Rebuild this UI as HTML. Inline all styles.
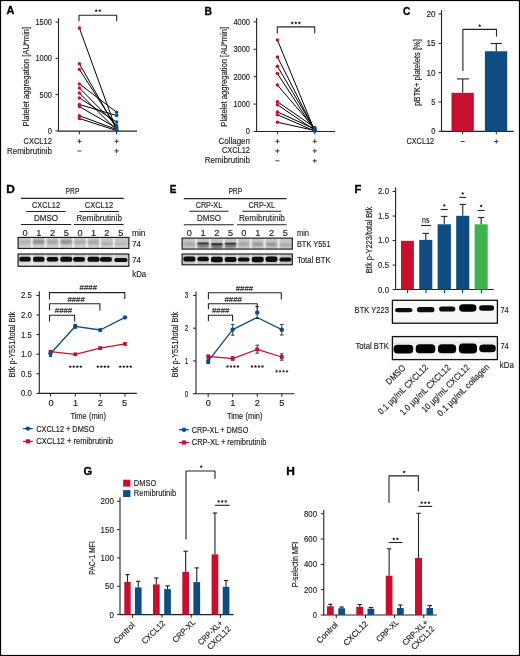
<!DOCTYPE html><html><head><meta charset="utf-8"><style>html,body{margin:0;padding:0;background:#fff}svg{display:block;will-change:transform}text{font-family:"Liberation Sans",sans-serif;stroke:#1c1c1c;stroke-width:0.15px}</style></head><body>
<svg width="520" height="656" viewBox="0 0 520 656">
<defs><filter id="bl1" x="-20%" y="-50%" width="140%" height="200%"><feGaussianBlur stdDeviation="0.7"/></filter><filter id="bl2" x="-20%" y="-80%" width="140%" height="260%"><feGaussianBlur stdDeviation="1.0"/></filter></defs>
<rect x="0.00" y="0.00" width="520.00" height="656.00" fill="#fff" />
<line x1="58.50" y1="18.10" x2="58.50" y2="131.50" stroke="#222" stroke-width="1.1"/>
<line x1="55.50" y1="22.10" x2="58.50" y2="22.10" stroke="#222" stroke-width="1"/>
<text x="52.00" y="25.04" font-size="9.2" text-anchor="end" fill="#1c1c1c" textLength="16.60" lengthAdjust="spacingAndGlyphs">1500</text>
<line x1="55.50" y1="58.37" x2="58.50" y2="58.37" stroke="#222" stroke-width="1"/>
<text x="52.00" y="61.31" font-size="9.2" text-anchor="end" fill="#1c1c1c" textLength="16.60" lengthAdjust="spacingAndGlyphs">1000</text>
<line x1="55.50" y1="94.63" x2="58.50" y2="94.63" stroke="#222" stroke-width="1"/>
<text x="52.00" y="97.58" font-size="9.2" text-anchor="end" fill="#1c1c1c" textLength="12.40" lengthAdjust="spacingAndGlyphs">500</text>
<line x1="55.50" y1="130.90" x2="58.50" y2="130.90" stroke="#222" stroke-width="1"/>
<text x="52.00" y="133.84" font-size="9.2" text-anchor="end" fill="#1c1c1c" textLength="4.20" lengthAdjust="spacingAndGlyphs">0</text>
<line x1="58.50" y1="131.10" x2="137.00" y2="131.10" stroke="#222" stroke-width="1.1"/>
<line x1="79.40" y1="131.10" x2="79.40" y2="134.30" stroke="#222" stroke-width="1"/>
<line x1="116.60" y1="131.10" x2="116.60" y2="134.30" stroke="#222" stroke-width="1"/>
<text transform="translate(28.90,76.70) rotate(-90)" x="0" y="0" font-size="9.2" text-anchor="middle" fill="#1c1c1c" textLength="99.80" lengthAdjust="spacingAndGlyphs">Platelet aggregation [AU*min]</text>
<path d="M79 21.3V15.3H116.7V21.3" stroke="#222" stroke-width="1.1" fill="none" stroke-linejoin="round" />
<polygon points="96.20,8.95 96.66,10.06 97.86,10.16 96.95,10.94 97.23,12.12 96.20,11.49 95.17,12.12 95.45,10.94 94.54,10.16 95.74,10.06" fill="#1a1a1a"/>
<polygon points="99.80,8.95 100.26,10.06 101.46,10.16 100.55,10.94 100.83,12.12 99.80,11.49 98.77,12.12 99.05,10.94 98.14,10.16 99.34,10.06" fill="#1a1a1a"/>
<line x1="79.40" y1="28.10" x2="116.60" y2="130.60" stroke="#000" stroke-width="1.0"/>
<line x1="79.40" y1="63.75" x2="116.60" y2="129.10" stroke="#000" stroke-width="1.0"/>
<line x1="79.40" y1="69.40" x2="116.60" y2="127.40" stroke="#000" stroke-width="1.0"/>
<line x1="79.40" y1="83.90" x2="116.60" y2="112.20" stroke="#000" stroke-width="1.0"/>
<line x1="79.40" y1="88.00" x2="116.60" y2="125.40" stroke="#000" stroke-width="1.0"/>
<line x1="79.40" y1="93.10" x2="116.60" y2="130.00" stroke="#000" stroke-width="1.0"/>
<line x1="79.40" y1="97.90" x2="116.60" y2="122.00" stroke="#000" stroke-width="1.0"/>
<line x1="79.40" y1="104.50" x2="116.60" y2="115.50" stroke="#000" stroke-width="1.0"/>
<line x1="79.40" y1="106.60" x2="116.60" y2="128.00" stroke="#000" stroke-width="1.0"/>
<line x1="79.40" y1="115.70" x2="116.60" y2="129.50" stroke="#000" stroke-width="1.0"/>
<line x1="79.40" y1="118.50" x2="116.60" y2="130.60" stroke="#000" stroke-width="1.0"/>
<circle cx="79.40" cy="28.10" r="1.75" fill="#c8102e"/>
<circle cx="79.40" cy="63.75" r="1.75" fill="#c8102e"/>
<circle cx="79.40" cy="69.40" r="1.75" fill="#c8102e"/>
<circle cx="79.40" cy="83.90" r="1.75" fill="#c8102e"/>
<circle cx="79.40" cy="88.00" r="1.75" fill="#c8102e"/>
<circle cx="79.40" cy="93.10" r="1.75" fill="#c8102e"/>
<circle cx="79.40" cy="97.90" r="1.75" fill="#c8102e"/>
<circle cx="79.40" cy="104.50" r="1.75" fill="#c8102e"/>
<circle cx="79.40" cy="106.60" r="1.75" fill="#c8102e"/>
<circle cx="79.40" cy="115.70" r="1.75" fill="#c8102e"/>
<circle cx="79.40" cy="118.50" r="1.75" fill="#c8102e"/>
<circle cx="116.60" cy="130.60" r="1.75" fill="#0e4c82"/>
<circle cx="116.60" cy="129.10" r="1.75" fill="#0e4c82"/>
<circle cx="116.60" cy="127.40" r="1.75" fill="#0e4c82"/>
<circle cx="116.60" cy="112.20" r="1.75" fill="#0e4c82"/>
<circle cx="116.60" cy="125.40" r="1.75" fill="#0e4c82"/>
<circle cx="116.60" cy="130.00" r="1.75" fill="#0e4c82"/>
<circle cx="116.60" cy="122.00" r="1.75" fill="#0e4c82"/>
<circle cx="116.60" cy="115.50" r="1.75" fill="#0e4c82"/>
<circle cx="116.60" cy="128.00" r="1.75" fill="#0e4c82"/>
<circle cx="116.60" cy="129.50" r="1.75" fill="#0e4c82"/>
<circle cx="116.60" cy="130.60" r="1.75" fill="#0e4c82"/>
<text x="51.90" y="143.74" font-size="9.2" text-anchor="end" fill="#1c1c1c" textLength="28.40" lengthAdjust="spacingAndGlyphs">CXCL12</text>
<text x="51.90" y="153.84" font-size="9.2" text-anchor="end" fill="#1c1c1c" textLength="45.00" lengthAdjust="spacingAndGlyphs">Remibrutinib</text>
<line x1="77.30" y1="141.30" x2="81.50" y2="141.30" stroke="#333" stroke-width="0.95"/>
<line x1="79.40" y1="139.20" x2="79.40" y2="143.40" stroke="#333" stroke-width="0.95"/>
<line x1="114.50" y1="141.30" x2="118.70" y2="141.30" stroke="#333" stroke-width="0.95"/>
<line x1="116.60" y1="139.20" x2="116.60" y2="143.40" stroke="#333" stroke-width="0.95"/>
<line x1="77.50" y1="151.00" x2="81.30" y2="151.00" stroke="#333" stroke-width="0.95"/>
<line x1="114.50" y1="150.90" x2="118.70" y2="150.90" stroke="#333" stroke-width="0.95"/>
<line x1="116.60" y1="148.80" x2="116.60" y2="153.00" stroke="#333" stroke-width="0.95"/>
<line x1="256.60" y1="18.10" x2="256.60" y2="132.00" stroke="#222" stroke-width="1.1"/>
<line x1="253.60" y1="21.90" x2="256.60" y2="21.90" stroke="#222" stroke-width="1"/>
<text x="250.00" y="24.84" font-size="9.2" text-anchor="end" fill="#1c1c1c" textLength="16.60" lengthAdjust="spacingAndGlyphs">4000</text>
<line x1="253.60" y1="49.30" x2="256.60" y2="49.30" stroke="#222" stroke-width="1"/>
<text x="250.00" y="52.24" font-size="9.2" text-anchor="end" fill="#1c1c1c" textLength="16.60" lengthAdjust="spacingAndGlyphs">3000</text>
<line x1="253.60" y1="76.70" x2="256.60" y2="76.70" stroke="#222" stroke-width="1"/>
<text x="250.00" y="79.64" font-size="9.2" text-anchor="end" fill="#1c1c1c" textLength="16.60" lengthAdjust="spacingAndGlyphs">2000</text>
<line x1="253.60" y1="104.10" x2="256.60" y2="104.10" stroke="#222" stroke-width="1"/>
<text x="250.00" y="107.04" font-size="9.2" text-anchor="end" fill="#1c1c1c" textLength="16.60" lengthAdjust="spacingAndGlyphs">1000</text>
<line x1="253.60" y1="131.50" x2="256.60" y2="131.50" stroke="#222" stroke-width="1"/>
<text x="250.00" y="134.44" font-size="9.2" text-anchor="end" fill="#1c1c1c" textLength="4.20" lengthAdjust="spacingAndGlyphs">0</text>
<line x1="256.60" y1="131.50" x2="335.00" y2="131.50" stroke="#222" stroke-width="1.1"/>
<line x1="277.40" y1="131.50" x2="277.40" y2="134.30" stroke="#222" stroke-width="1"/>
<line x1="314.75" y1="131.50" x2="314.75" y2="134.30" stroke="#222" stroke-width="1"/>
<text transform="translate(227.10,76.80) rotate(-90)" x="0" y="0" font-size="9.2" text-anchor="middle" fill="#1c1c1c" textLength="99.80" lengthAdjust="spacingAndGlyphs">Platelet aggregation [AU*min]</text>
<path d="M277.3 33.4V26.9H314.7V33.4" stroke="#222" stroke-width="1.1" fill="none" stroke-linejoin="round" />
<polygon points="292.20,21.25 292.66,22.36 293.86,22.46 292.95,23.24 293.23,24.42 292.20,23.79 291.17,24.42 291.45,23.24 290.54,22.46 291.74,22.36" fill="#1a1a1a"/>
<polygon points="295.80,21.25 296.26,22.36 297.46,22.46 296.55,23.24 296.83,24.42 295.80,23.79 294.77,24.42 295.05,23.24 294.14,22.46 295.34,22.36" fill="#1a1a1a"/>
<polygon points="299.40,21.25 299.86,22.36 301.06,22.46 300.15,23.24 300.43,24.42 299.40,23.79 298.37,24.42 298.65,23.24 297.74,22.46 298.94,22.36" fill="#1a1a1a"/>
<line x1="277.40" y1="40.00" x2="314.75" y2="131.00" stroke="#000" stroke-width="1.0"/>
<line x1="277.40" y1="56.90" x2="314.75" y2="130.50" stroke="#000" stroke-width="1.0"/>
<line x1="277.40" y1="66.25" x2="314.75" y2="129.50" stroke="#000" stroke-width="1.0"/>
<line x1="277.40" y1="73.50" x2="314.75" y2="130.80" stroke="#000" stroke-width="1.0"/>
<line x1="277.40" y1="85.00" x2="314.75" y2="128.50" stroke="#000" stroke-width="1.0"/>
<line x1="277.40" y1="101.70" x2="314.75" y2="127.50" stroke="#000" stroke-width="1.0"/>
<line x1="277.40" y1="104.70" x2="314.75" y2="130.20" stroke="#000" stroke-width="1.0"/>
<line x1="277.40" y1="111.90" x2="314.75" y2="129.00" stroke="#000" stroke-width="1.0"/>
<line x1="277.40" y1="114.75" x2="314.75" y2="131.00" stroke="#000" stroke-width="1.0"/>
<line x1="277.40" y1="122.25" x2="314.75" y2="130.50" stroke="#000" stroke-width="1.0"/>
<circle cx="277.40" cy="40.00" r="1.75" fill="#c8102e"/>
<circle cx="277.40" cy="56.90" r="1.75" fill="#c8102e"/>
<circle cx="277.40" cy="66.25" r="1.75" fill="#c8102e"/>
<circle cx="277.40" cy="73.50" r="1.75" fill="#c8102e"/>
<circle cx="277.40" cy="85.00" r="1.75" fill="#c8102e"/>
<circle cx="277.40" cy="101.70" r="1.75" fill="#c8102e"/>
<circle cx="277.40" cy="104.70" r="1.75" fill="#c8102e"/>
<circle cx="277.40" cy="111.90" r="1.75" fill="#c8102e"/>
<circle cx="277.40" cy="114.75" r="1.75" fill="#c8102e"/>
<circle cx="277.40" cy="122.25" r="1.75" fill="#c8102e"/>
<circle cx="314.75" cy="131.00" r="1.75" fill="#0e4c82"/>
<circle cx="314.75" cy="130.50" r="1.75" fill="#0e4c82"/>
<circle cx="314.75" cy="129.50" r="1.75" fill="#0e4c82"/>
<circle cx="314.75" cy="130.80" r="1.75" fill="#0e4c82"/>
<circle cx="314.75" cy="128.50" r="1.75" fill="#0e4c82"/>
<circle cx="314.75" cy="127.50" r="1.75" fill="#0e4c82"/>
<circle cx="314.75" cy="130.20" r="1.75" fill="#0e4c82"/>
<circle cx="314.75" cy="129.00" r="1.75" fill="#0e4c82"/>
<circle cx="314.75" cy="131.00" r="1.75" fill="#0e4c82"/>
<circle cx="314.75" cy="130.50" r="1.75" fill="#0e4c82"/>
<text x="249.90" y="144.04" font-size="9.2" text-anchor="end" fill="#1c1c1c" textLength="31.40" lengthAdjust="spacingAndGlyphs">Collagen</text>
<text x="249.90" y="153.44" font-size="9.2" text-anchor="end" fill="#1c1c1c" textLength="28.00" lengthAdjust="spacingAndGlyphs">CXCL12</text>
<text x="249.90" y="163.24" font-size="9.2" text-anchor="end" fill="#1c1c1c" textLength="45.10" lengthAdjust="spacingAndGlyphs">Remibrutinib</text>
<line x1="275.30" y1="141.30" x2="279.50" y2="141.30" stroke="#333" stroke-width="0.95"/>
<line x1="277.40" y1="139.20" x2="277.40" y2="143.40" stroke="#333" stroke-width="0.95"/>
<line x1="312.65" y1="141.30" x2="316.85" y2="141.30" stroke="#333" stroke-width="0.95"/>
<line x1="314.75" y1="139.20" x2="314.75" y2="143.40" stroke="#333" stroke-width="0.95"/>
<line x1="275.30" y1="150.90" x2="279.50" y2="150.90" stroke="#333" stroke-width="0.95"/>
<line x1="277.40" y1="148.80" x2="277.40" y2="153.00" stroke="#333" stroke-width="0.95"/>
<line x1="312.65" y1="150.90" x2="316.85" y2="150.90" stroke="#333" stroke-width="0.95"/>
<line x1="314.75" y1="148.80" x2="314.75" y2="153.00" stroke="#333" stroke-width="0.95"/>
<line x1="275.50" y1="160.80" x2="279.30" y2="160.80" stroke="#333" stroke-width="0.95"/>
<line x1="312.65" y1="160.80" x2="316.85" y2="160.80" stroke="#333" stroke-width="0.95"/>
<line x1="314.75" y1="158.70" x2="314.75" y2="162.90" stroke="#333" stroke-width="0.95"/>
<line x1="441.50" y1="10.00" x2="441.50" y2="131.80" stroke="#222" stroke-width="1.1"/>
<line x1="438.50" y1="14.00" x2="441.50" y2="14.00" stroke="#222" stroke-width="1"/>
<text x="435.40" y="16.94" font-size="9.2" text-anchor="end" fill="#1c1c1c" textLength="9.00" lengthAdjust="spacingAndGlyphs">20</text>
<line x1="438.50" y1="43.33" x2="441.50" y2="43.33" stroke="#222" stroke-width="1"/>
<text x="435.40" y="46.27" font-size="9.2" text-anchor="end" fill="#1c1c1c" textLength="9.00" lengthAdjust="spacingAndGlyphs">15</text>
<line x1="438.50" y1="72.65" x2="441.50" y2="72.65" stroke="#222" stroke-width="1"/>
<text x="435.40" y="75.59" font-size="9.2" text-anchor="end" fill="#1c1c1c" textLength="9.00" lengthAdjust="spacingAndGlyphs">10</text>
<line x1="438.50" y1="101.98" x2="441.50" y2="101.98" stroke="#222" stroke-width="1"/>
<text x="435.40" y="104.92" font-size="9.2" text-anchor="end" fill="#1c1c1c" textLength="4.20" lengthAdjust="spacingAndGlyphs">5</text>
<line x1="438.50" y1="131.30" x2="441.50" y2="131.30" stroke="#222" stroke-width="1"/>
<text x="435.40" y="134.24" font-size="9.2" text-anchor="end" fill="#1c1c1c" textLength="4.20" lengthAdjust="spacingAndGlyphs">0</text>
<line x1="441.50" y1="131.40" x2="513.80" y2="131.40" stroke="#222" stroke-width="1.1"/>
<rect x="451.50" y="92.80" width="22.30" height="38.60" fill="#c8102e" />
<rect x="484.90" y="51.25" width="22.30" height="80.15" fill="#0e4c82" />
<line x1="462.70" y1="92.80" x2="462.70" y2="78.90" stroke="#222" stroke-width="1.1"/>
<line x1="456.90" y1="78.90" x2="468.90" y2="78.90" stroke="#222" stroke-width="1.1"/>
<line x1="496.30" y1="51.25" x2="496.30" y2="43.50" stroke="#222" stroke-width="1.1"/>
<line x1="490.60" y1="43.50" x2="501.90" y2="43.50" stroke="#222" stroke-width="1.1"/>
<path d="M462.9 71.1V29.4H496.5V36.5" stroke="#222" stroke-width="1.1" fill="none" stroke-linejoin="round" />
<polygon points="479.75,23.85 480.21,24.96 481.41,25.06 480.50,25.84 480.78,27.02 479.75,26.39 478.72,27.02 479.00,25.84 478.09,25.06 479.29,24.96" fill="#1a1a1a"/>
<line x1="462.70" y1="131.40" x2="462.70" y2="134.30" stroke="#222" stroke-width="1"/>
<line x1="496.30" y1="131.40" x2="496.30" y2="134.30" stroke="#222" stroke-width="1"/>
<line x1="460.80" y1="141.50" x2="464.60" y2="141.50" stroke="#333" stroke-width="0.95"/>
<line x1="494.20" y1="141.50" x2="498.40" y2="141.50" stroke="#333" stroke-width="0.95"/>
<line x1="496.30" y1="139.40" x2="496.30" y2="143.60" stroke="#333" stroke-width="0.95"/>
<text x="434.20" y="143.64" font-size="9.2" text-anchor="end" fill="#1c1c1c" textLength="27.80" lengthAdjust="spacingAndGlyphs">CXCL12</text>
<text transform="translate(420.20,72.50) rotate(-90)" x="0" y="0" font-size="9.5" text-anchor="middle" fill="#1c1c1c" textLength="66.80" lengthAdjust="spacingAndGlyphs">pBTK+ platelets [%]</text>
<text x="72.50" y="193.84" font-size="9.2" text-anchor="middle" fill="#1c1c1c" textLength="13.80" lengthAdjust="spacingAndGlyphs">PRP</text>
<line x1="21.00" y1="198.40" x2="123.75" y2="198.40" stroke="#222" stroke-width="1.1"/>
<text x="46.00" y="208.04" font-size="9.2" text-anchor="middle" fill="#1c1c1c" textLength="28.10" lengthAdjust="spacingAndGlyphs">CXCL12</text>
<text x="98.90" y="208.04" font-size="9.2" text-anchor="middle" fill="#1c1c1c" textLength="28.30" lengthAdjust="spacingAndGlyphs">CXCL12</text>
<line x1="26.25" y1="211.50" x2="65.60" y2="211.50" stroke="#222" stroke-width="1.1"/>
<line x1="79.40" y1="211.50" x2="118.75" y2="211.50" stroke="#222" stroke-width="1.1"/>
<text x="46.00" y="221.04" font-size="9.2" text-anchor="middle" fill="#1c1c1c" textLength="24.10" lengthAdjust="spacingAndGlyphs">DMSO</text>
<text x="99.20" y="221.04" font-size="9.2" text-anchor="middle" fill="#1c1c1c" textLength="45.40" lengthAdjust="spacingAndGlyphs">Remibrutinib</text>
<line x1="21.00" y1="224.50" x2="71.25" y2="224.50" stroke="#222" stroke-width="1.1"/>
<line x1="74.00" y1="224.50" x2="123.75" y2="224.50" stroke="#222" stroke-width="1.1"/>
<text x="25.00" y="235.64" font-size="9.2" text-anchor="middle" fill="#1c1c1c">0</text>
<text x="38.75" y="235.64" font-size="9.2" text-anchor="middle" fill="#1c1c1c">1</text>
<text x="52.50" y="235.64" font-size="9.2" text-anchor="middle" fill="#1c1c1c">2</text>
<text x="66.25" y="235.64" font-size="9.2" text-anchor="middle" fill="#1c1c1c">5</text>
<text x="80.00" y="235.64" font-size="9.2" text-anchor="middle" fill="#1c1c1c">0</text>
<text x="93.50" y="235.64" font-size="9.2" text-anchor="middle" fill="#1c1c1c">1</text>
<text x="106.90" y="235.64" font-size="9.2" text-anchor="middle" fill="#1c1c1c">2</text>
<text x="120.80" y="235.64" font-size="9.2" text-anchor="middle" fill="#1c1c1c">5</text>
<text x="132.00" y="235.94" font-size="9.2" text-anchor="start" fill="#1c1c1c" textLength="13.40" lengthAdjust="spacingAndGlyphs">min</text>
<rect x="18.10" y="237.40" width="110.80" height="11.00" fill="#c6c6c6" />
<rect x="18.10" y="245.80" width="110.80" height="2.60" fill="#d8d8d8" opacity="0.8"/>
<rect x="30.77" y="237.40" width="2.20" height="11.00" fill="#f0f0f0" filter="url(#bl1)" opacity="0.9"/>
<rect x="44.52" y="237.40" width="2.20" height="11.00" fill="#f0f0f0" filter="url(#bl1)" opacity="0.9"/>
<rect x="58.27" y="237.40" width="2.20" height="11.00" fill="#f0f0f0" filter="url(#bl1)" opacity="0.9"/>
<rect x="72.03" y="237.40" width="2.20" height="11.00" fill="#f0f0f0" filter="url(#bl1)" opacity="0.9"/>
<rect x="85.65" y="237.40" width="2.20" height="11.00" fill="#f0f0f0" filter="url(#bl1)" opacity="0.9"/>
<rect x="99.10" y="237.40" width="2.20" height="11.00" fill="#f0f0f0" filter="url(#bl1)" opacity="0.9"/>
<rect x="112.75" y="237.40" width="2.20" height="11.00" fill="#f0f0f0" filter="url(#bl1)" opacity="0.9"/>
<rect x="19.50" y="240.50" width="11.00" height="3.00" rx="1.65" ry="1.20" fill="#aaaaaa" filter="url(#bl2)"/>
<rect x="33.00" y="240.20" width="11.50" height="3.40" rx="1.87" ry="1.36" fill="#808080" filter="url(#bl2)"/>
<rect x="47.00" y="240.40" width="11.00" height="3.20" rx="1.76" ry="1.28" fill="#9a9a9a" filter="url(#bl2)"/>
<rect x="60.50" y="240.20" width="11.50" height="3.40" rx="1.87" ry="1.36" fill="#848484" filter="url(#bl2)"/>
<rect x="74.50" y="240.70" width="11.00" height="3.00" rx="1.65" ry="1.20" fill="#a4a4a4" filter="url(#bl2)"/>
<rect x="88.00" y="240.70" width="11.00" height="3.00" rx="1.65" ry="1.20" fill="#a0a0a0" filter="url(#bl2)"/>
<rect x="101.40" y="242.20" width="11.00" height="2.80" rx="1.54" ry="1.12" fill="#ababab" filter="url(#bl2)"/>
<rect x="115.30" y="242.40" width="11.00" height="2.80" rx="1.54" ry="1.12" fill="#b0b0b0" filter="url(#bl2)"/>
<rect x="18.10" y="237.40" width="110.80" height="11.00" fill="none" stroke="#111" stroke-width="1.1"/>
<text x="132.30" y="247.24" font-size="9.2" text-anchor="start" fill="#1c1c1c" textLength="8.50" lengthAdjust="spacingAndGlyphs">74</text>
<rect x="18.10" y="254.00" width="110.80" height="12.30" fill="#c9c9c9" />
<rect x="18.10" y="262.60" width="110.80" height="2.60" fill="#ececec" opacity="0.8"/>
<rect x="30.77" y="254.00" width="2.20" height="12.30" fill="#e8e8e8" filter="url(#bl1)" opacity="0.9"/>
<rect x="44.52" y="254.00" width="2.20" height="12.30" fill="#e8e8e8" filter="url(#bl1)" opacity="0.9"/>
<rect x="58.27" y="254.00" width="2.20" height="12.30" fill="#e8e8e8" filter="url(#bl1)" opacity="0.9"/>
<rect x="72.03" y="254.00" width="2.20" height="12.30" fill="#e8e8e8" filter="url(#bl1)" opacity="0.9"/>
<rect x="85.65" y="254.00" width="2.20" height="12.30" fill="#e8e8e8" filter="url(#bl1)" opacity="0.9"/>
<rect x="99.10" y="254.00" width="2.20" height="12.30" fill="#e8e8e8" filter="url(#bl1)" opacity="0.9"/>
<rect x="112.75" y="254.00" width="2.20" height="12.30" fill="#e8e8e8" filter="url(#bl1)" opacity="0.9"/>
<rect x="19.25" y="256.80" width="11.50" height="4.80" rx="2.64" ry="1.92" fill="#0c0c0c" filter="url(#bl1)"/>
<rect x="33.00" y="256.70" width="11.50" height="5.00" rx="2.75" ry="2.00" fill="#0c0c0c" filter="url(#bl1)"/>
<rect x="46.75" y="257.10" width="11.50" height="4.40" rx="2.42" ry="1.76" fill="#0c0c0c" filter="url(#bl1)"/>
<rect x="60.25" y="256.70" width="12.00" height="5.00" rx="2.75" ry="2.00" fill="#0c0c0c" filter="url(#bl1)"/>
<rect x="73.00" y="256.90" width="12.00" height="4.80" rx="2.64" ry="1.92" fill="#0c0c0c" filter="url(#bl1)"/>
<rect x="87.50" y="256.80" width="12.00" height="5.00" rx="2.75" ry="2.00" fill="#0c0c0c" filter="url(#bl1)"/>
<rect x="99.90" y="257.00" width="12.00" height="4.80" rx="2.64" ry="1.92" fill="#0c0c0c" filter="url(#bl1)"/>
<rect x="114.30" y="258.10" width="13.00" height="3.80" rx="2.09" ry="1.52" fill="#0c0c0c" filter="url(#bl1)"/>
<rect x="18.10" y="254.00" width="110.80" height="12.30" fill="none" stroke="#111" stroke-width="1.1"/>
<text x="132.30" y="262.64" font-size="9.2" text-anchor="start" fill="#1c1c1c" textLength="8.50" lengthAdjust="spacingAndGlyphs">74</text>
<text x="132.30" y="276.94" font-size="9.2" text-anchor="start" fill="#1c1c1c" textLength="13.90" lengthAdjust="spacingAndGlyphs">kDa</text>
<line x1="39.30" y1="291.25" x2="39.30" y2="393.90" stroke="#222" stroke-width="1.1"/>
<line x1="36.30" y1="295.40" x2="39.30" y2="295.40" stroke="#222" stroke-width="1"/>
<text x="31.90" y="298.34" font-size="9.2" text-anchor="end" fill="#1c1c1c" textLength="10.90" lengthAdjust="spacingAndGlyphs">2.5</text>
<line x1="36.30" y1="315.00" x2="39.30" y2="315.00" stroke="#222" stroke-width="1"/>
<text x="31.90" y="317.94" font-size="9.2" text-anchor="end" fill="#1c1c1c" textLength="10.90" lengthAdjust="spacingAndGlyphs">2.0</text>
<line x1="36.30" y1="334.60" x2="39.30" y2="334.60" stroke="#222" stroke-width="1"/>
<text x="31.90" y="337.54" font-size="9.2" text-anchor="end" fill="#1c1c1c" textLength="10.90" lengthAdjust="spacingAndGlyphs">1.5</text>
<line x1="36.30" y1="354.20" x2="39.30" y2="354.20" stroke="#222" stroke-width="1"/>
<text x="31.90" y="357.14" font-size="9.2" text-anchor="end" fill="#1c1c1c" textLength="10.90" lengthAdjust="spacingAndGlyphs">1.0</text>
<line x1="36.30" y1="373.80" x2="39.30" y2="373.80" stroke="#222" stroke-width="1"/>
<text x="31.90" y="376.74" font-size="9.2" text-anchor="end" fill="#1c1c1c" textLength="10.90" lengthAdjust="spacingAndGlyphs">0.5</text>
<line x1="36.30" y1="393.40" x2="39.30" y2="393.40" stroke="#222" stroke-width="1"/>
<text x="31.90" y="396.34" font-size="9.2" text-anchor="end" fill="#1c1c1c" textLength="10.90" lengthAdjust="spacingAndGlyphs">0.0</text>
<line x1="39.30" y1="393.40" x2="136.80" y2="393.40" stroke="#222" stroke-width="1.1"/>
<line x1="50.50" y1="393.40" x2="50.50" y2="396.60" stroke="#222" stroke-width="1"/>
<line x1="75.30" y1="393.40" x2="75.30" y2="396.60" stroke="#222" stroke-width="1"/>
<line x1="100.20" y1="393.40" x2="100.20" y2="396.60" stroke="#222" stroke-width="1"/>
<line x1="125.00" y1="393.40" x2="125.00" y2="396.60" stroke="#222" stroke-width="1"/>
<text x="51.00" y="406.34" font-size="9.2" text-anchor="middle" fill="#1c1c1c">0</text>
<text x="75.60" y="406.34" font-size="9.2" text-anchor="middle" fill="#1c1c1c">1</text>
<text x="100.20" y="406.34" font-size="9.2" text-anchor="middle" fill="#1c1c1c">2</text>
<text x="124.60" y="406.34" font-size="9.2" text-anchor="middle" fill="#1c1c1c">5</text>
<text x="88.20" y="418.64" font-size="9.2" text-anchor="middle" fill="#1c1c1c" textLength="35.60" lengthAdjust="spacingAndGlyphs">Time (min)</text>
<text transform="translate(15.00,344.50) rotate(-90)" x="0" y="0" font-size="9.2" text-anchor="middle" fill="#1c1c1c" textLength="65.40" lengthAdjust="spacingAndGlyphs">Btk p-Y551/total Btk</text>
<path d="M49.5 299.4V292.6H124.8V299.0" stroke="#222" stroke-width="1.1" fill="none" stroke-linejoin="round" />
<path d="M49.5 310.3V303.7H99.9V310.6" stroke="#222" stroke-width="1.1" fill="none" stroke-linejoin="round" />
<path d="M49.5 321.4V315.3H74.6V321.5" stroke="#222" stroke-width="1.1" fill="none" stroke-linejoin="round" />
<text x="88.30" y="290.28" font-size="8.0" text-anchor="middle" fill="#1c1c1c" textLength="17.40" lengthAdjust="spacingAndGlyphs">####</text>
<text x="76.10" y="301.68" font-size="8.0" text-anchor="middle" fill="#1c1c1c" textLength="17.40" lengthAdjust="spacingAndGlyphs">####</text>
<text x="63.50" y="312.78" font-size="8.0" text-anchor="middle" fill="#1c1c1c" textLength="17.40" lengthAdjust="spacingAndGlyphs">####</text>
<path d="M50.50 351.70 L75.30 354.30 L100.20 348.10 L125.00 343.90" stroke="#c8102e" stroke-width="1.3" fill="none" stroke-linejoin="round" />
<rect x="48.60" y="349.80" width="3.80" height="3.80" fill="#c8102e" />
<rect x="73.40" y="352.40" width="3.80" height="3.80" fill="#c8102e" />
<rect x="98.30" y="346.20" width="3.80" height="3.80" fill="#c8102e" />
<rect x="123.10" y="342.00" width="3.80" height="3.80" fill="#c8102e" />
<path d="M50.50 353.80 L75.30 326.30 L100.20 330.00 L125.00 317.40" stroke="#0e4c82" stroke-width="1.3" fill="none" stroke-linejoin="round" />
<line x1="73.80" y1="324.30" x2="76.80" y2="324.30" stroke="#222" stroke-width="0.9"/>
<line x1="75.30" y1="324.30" x2="75.30" y2="328.30" stroke="#222" stroke-width="0.9"/>
<line x1="73.80" y1="328.30" x2="76.80" y2="328.30" stroke="#222" stroke-width="0.9"/>
<line x1="50.50" y1="352.00" x2="50.50" y2="356.50" stroke="#222" stroke-width="0.9"/>
<line x1="49.00" y1="356.50" x2="52.00" y2="356.50" stroke="#222" stroke-width="0.9"/>
<circle cx="50.50" cy="353.80" r="2.2" fill="#0e4c82"/>
<circle cx="75.30" cy="326.30" r="2.2" fill="#0e4c82"/>
<circle cx="100.20" cy="330.00" r="2.2" fill="#0e4c82"/>
<circle cx="125.00" cy="317.40" r="2.2" fill="#0e4c82"/>
<rect x="73.60" y="324.60" width="3.40" height="3.40" fill="#0e4c82" />
<polygon points="70.25,364.95 70.71,366.06 71.91,366.16 71.00,366.94 71.28,368.12 70.25,367.49 69.22,368.12 69.50,366.94 68.59,366.16 69.79,366.06" fill="#1a1a1a"/>
<polygon points="73.75,364.95 74.21,366.06 75.41,366.16 74.50,366.94 74.78,368.12 73.75,367.49 72.72,368.12 73.00,366.94 72.09,366.16 73.29,366.06" fill="#1a1a1a"/>
<polygon points="77.25,364.95 77.71,366.06 78.91,366.16 78.00,366.94 78.28,368.12 77.25,367.49 76.22,368.12 76.50,366.94 75.59,366.16 76.79,366.06" fill="#1a1a1a"/>
<polygon points="80.75,364.95 81.21,366.06 82.41,366.16 81.50,366.94 81.78,368.12 80.75,367.49 79.72,368.12 80.00,366.94 79.09,366.16 80.29,366.06" fill="#1a1a1a"/>
<polygon points="97.80,364.95 98.26,366.06 99.46,366.16 98.55,366.94 98.83,368.12 97.80,367.49 96.77,368.12 97.05,366.94 96.14,366.16 97.34,366.06" fill="#1a1a1a"/>
<polygon points="101.30,364.95 101.76,366.06 102.96,366.16 102.05,366.94 102.33,368.12 101.30,367.49 100.27,368.12 100.55,366.94 99.64,366.16 100.84,366.06" fill="#1a1a1a"/>
<polygon points="104.80,364.95 105.26,366.06 106.46,366.16 105.55,366.94 105.83,368.12 104.80,367.49 103.77,368.12 104.05,366.94 103.14,366.16 104.34,366.06" fill="#1a1a1a"/>
<polygon points="108.30,364.95 108.76,366.06 109.96,366.16 109.05,366.94 109.33,368.12 108.30,367.49 107.27,368.12 107.55,366.94 106.64,366.16 107.84,366.06" fill="#1a1a1a"/>
<polygon points="120.25,364.95 120.71,366.06 121.91,366.16 121.00,366.94 121.28,368.12 120.25,367.49 119.22,368.12 119.50,366.94 118.59,366.16 119.79,366.06" fill="#1a1a1a"/>
<polygon points="123.75,364.95 124.21,366.06 125.41,366.16 124.50,366.94 124.78,368.12 123.75,367.49 122.72,368.12 123.00,366.94 122.09,366.16 123.29,366.06" fill="#1a1a1a"/>
<polygon points="127.25,364.95 127.71,366.06 128.91,366.16 128.00,366.94 128.28,368.12 127.25,367.49 126.22,368.12 126.50,366.94 125.59,366.16 126.79,366.06" fill="#1a1a1a"/>
<polygon points="130.75,364.95 131.21,366.06 132.41,366.16 131.50,366.94 131.78,368.12 130.75,367.49 129.72,368.12 130.00,366.94 129.09,366.16 130.29,366.06" fill="#1a1a1a"/>
<line x1="23.10" y1="428.60" x2="32.70" y2="428.60" stroke="#0e4c82" stroke-width="1.3"/>
<circle cx="27.90" cy="428.60" r="2.2" fill="#0e4c82"/>
<text x="36.20" y="431.54" font-size="9.2" text-anchor="start" fill="#1c1c1c" textLength="58.20" lengthAdjust="spacingAndGlyphs">CXCL12 + DMSO</text>
<line x1="23.10" y1="441.40" x2="32.70" y2="441.40" stroke="#c8102e" stroke-width="1.3"/>
<rect x="25.80" y="439.30" width="4.20" height="4.20" fill="#c8102e" />
<text x="36.20" y="444.04" font-size="9.2" text-anchor="start" fill="#1c1c1c" textLength="76.80" lengthAdjust="spacingAndGlyphs">CXCL12 + remibrutinib</text>
<text x="235.30" y="194.04" font-size="9.2" text-anchor="middle" fill="#1c1c1c" textLength="13.80" lengthAdjust="spacingAndGlyphs">PRP</text>
<line x1="183.80" y1="198.60" x2="286.60" y2="198.60" stroke="#222" stroke-width="1.1"/>
<text x="208.95" y="208.24" font-size="9.2" text-anchor="middle" fill="#1c1c1c" textLength="26.50" lengthAdjust="spacingAndGlyphs">CRP-XL</text>
<text x="261.85" y="208.24" font-size="9.2" text-anchor="middle" fill="#1c1c1c" textLength="26.50" lengthAdjust="spacingAndGlyphs">CRP-XL</text>
<line x1="189.20" y1="211.30" x2="228.40" y2="211.30" stroke="#222" stroke-width="1.1"/>
<line x1="242.20" y1="211.30" x2="281.30" y2="211.30" stroke="#222" stroke-width="1.1"/>
<text x="208.95" y="221.04" font-size="9.2" text-anchor="middle" fill="#1c1c1c" textLength="23.90" lengthAdjust="spacingAndGlyphs">DMSO</text>
<text x="261.90" y="221.04" font-size="9.2" text-anchor="middle" fill="#1c1c1c" textLength="46.00" lengthAdjust="spacingAndGlyphs">Remibrutinib</text>
<line x1="183.80" y1="224.80" x2="233.70" y2="224.80" stroke="#222" stroke-width="1.1"/>
<line x1="237.10" y1="224.80" x2="286.60" y2="224.80" stroke="#222" stroke-width="1.1"/>
<text x="189.40" y="235.74" font-size="9.2" text-anchor="middle" fill="#1c1c1c">0</text>
<text x="203.10" y="235.74" font-size="9.2" text-anchor="middle" fill="#1c1c1c">1</text>
<text x="216.90" y="235.74" font-size="9.2" text-anchor="middle" fill="#1c1c1c">2</text>
<text x="230.60" y="235.74" font-size="9.2" text-anchor="middle" fill="#1c1c1c">5</text>
<text x="243.70" y="235.74" font-size="9.2" text-anchor="middle" fill="#1c1c1c">0</text>
<text x="257.70" y="235.74" font-size="9.2" text-anchor="middle" fill="#1c1c1c">1</text>
<text x="271.50" y="235.74" font-size="9.2" text-anchor="middle" fill="#1c1c1c">2</text>
<text x="285.40" y="235.74" font-size="9.2" text-anchor="middle" fill="#1c1c1c">5</text>
<text x="296.90" y="236.04" font-size="9.2" text-anchor="start" fill="#1c1c1c" textLength="12.10" lengthAdjust="spacingAndGlyphs">min</text>
<rect x="182.10" y="238.10" width="110.20" height="11.00" fill="#c6c6c6" />
<rect x="195.15" y="238.10" width="2.20" height="11.00" fill="#efefef" filter="url(#bl1)" opacity="0.9"/>
<rect x="208.90" y="238.10" width="2.20" height="11.00" fill="#efefef" filter="url(#bl1)" opacity="0.9"/>
<rect x="222.65" y="238.10" width="2.20" height="11.00" fill="#efefef" filter="url(#bl1)" opacity="0.9"/>
<rect x="236.05" y="238.10" width="2.20" height="11.00" fill="#efefef" filter="url(#bl1)" opacity="0.9"/>
<rect x="249.60" y="238.10" width="2.20" height="11.00" fill="#efefef" filter="url(#bl1)" opacity="0.9"/>
<rect x="263.50" y="238.10" width="2.20" height="11.00" fill="#efefef" filter="url(#bl1)" opacity="0.9"/>
<rect x="277.35" y="238.10" width="2.20" height="11.00" fill="#efefef" filter="url(#bl1)" opacity="0.9"/>
<rect x="183.90" y="242.80" width="11.00" height="2.60" rx="1.43" ry="1.04" fill="#a0a0a0" filter="url(#bl2)"/>
<rect x="197.35" y="243.00" width="11.50" height="4.40" rx="2.42" ry="1.76" fill="#707070" filter="url(#bl2)"/>
<rect x="197.35" y="242.50" width="11.50" height="1.80" rx="0.99" ry="0.72" fill="#3a3a3a" filter="url(#bl1)"/>
<rect x="211.15" y="243.30" width="11.50" height="4.60" rx="2.53" ry="1.84" fill="#646464" filter="url(#bl2)"/>
<rect x="211.15" y="243.30" width="11.50" height="1.80" rx="0.99" ry="0.72" fill="#333" filter="url(#bl1)"/>
<rect x="224.85" y="243.00" width="11.50" height="4.40" rx="2.42" ry="1.76" fill="#707070" filter="url(#bl2)"/>
<rect x="224.85" y="242.70" width="11.50" height="1.80" rx="0.99" ry="0.72" fill="#3a3a3a" filter="url(#bl1)"/>
<rect x="238.45" y="242.50" width="10.50" height="3.00" rx="1.65" ry="1.20" fill="#9c9c9c" filter="url(#bl2)"/>
<rect x="252.45" y="242.80" width="10.50" height="3.00" rx="1.65" ry="1.20" fill="#8e8e8e" filter="url(#bl2)"/>
<rect x="266.25" y="243.00" width="10.50" height="3.00" rx="1.65" ry="1.20" fill="#8a8a8a" filter="url(#bl2)"/>
<rect x="280.15" y="243.70" width="10.50" height="2.60" rx="1.43" ry="1.04" fill="#9e9e9e" filter="url(#bl2)"/>
<rect x="182.10" y="238.10" width="110.20" height="11.00" fill="none" stroke="#111" stroke-width="1.1"/>
<text x="296.90" y="247.14" font-size="9.2" text-anchor="start" fill="#1c1c1c" textLength="33.70" lengthAdjust="spacingAndGlyphs">BTK Y551</text>
<rect x="182.10" y="254.00" width="110.20" height="10.80" fill="#c6c6c6" />
<rect x="195.15" y="254.00" width="2.20" height="10.80" fill="#e4e4e4" filter="url(#bl1)" opacity="0.9"/>
<rect x="208.90" y="254.00" width="2.20" height="10.80" fill="#e4e4e4" filter="url(#bl1)" opacity="0.9"/>
<rect x="222.65" y="254.00" width="2.20" height="10.80" fill="#e4e4e4" filter="url(#bl1)" opacity="0.9"/>
<rect x="236.05" y="254.00" width="2.20" height="10.80" fill="#e4e4e4" filter="url(#bl1)" opacity="0.9"/>
<rect x="249.60" y="254.00" width="2.20" height="10.80" fill="#e4e4e4" filter="url(#bl1)" opacity="0.9"/>
<rect x="263.50" y="254.00" width="2.20" height="10.80" fill="#e4e4e4" filter="url(#bl1)" opacity="0.9"/>
<rect x="277.35" y="254.00" width="2.20" height="10.80" fill="#e4e4e4" filter="url(#bl1)" opacity="0.9"/>
<rect x="183.40" y="256.50" width="12.00" height="5.00" rx="2.75" ry="2.00" fill="#0a0a0a" filter="url(#bl1)"/>
<rect x="197.35" y="256.70" width="11.50" height="4.60" rx="2.53" ry="1.84" fill="#0a0a0a" filter="url(#bl1)"/>
<rect x="210.90" y="256.70" width="12.00" height="5.60" rx="3.08" ry="2.24" fill="#0a0a0a" filter="url(#bl1)"/>
<rect x="224.60" y="257.10" width="12.00" height="4.80" rx="2.64" ry="1.92" fill="#0a0a0a" filter="url(#bl1)"/>
<rect x="237.95" y="257.40" width="11.50" height="4.20" rx="2.31" ry="1.68" fill="#0d0d0d" filter="url(#bl1)"/>
<rect x="251.70" y="256.70" width="12.00" height="5.60" rx="3.08" ry="2.24" fill="#0a0a0a" filter="url(#bl1)"/>
<rect x="265.50" y="256.50" width="12.00" height="5.40" rx="2.97" ry="2.16" fill="#0a0a0a" filter="url(#bl1)"/>
<rect x="279.40" y="257.50" width="12.00" height="4.00" rx="2.20" ry="1.60" fill="#0d0d0d" filter="url(#bl1)"/>
<rect x="182.10" y="254.00" width="110.20" height="10.80" fill="none" stroke="#111" stroke-width="1.1"/>
<text x="296.90" y="263.14" font-size="9.2" text-anchor="start" fill="#1c1c1c" textLength="33.70" lengthAdjust="spacingAndGlyphs">Total BTK</text>
<line x1="196.00" y1="291.60" x2="196.00" y2="394.20" stroke="#222" stroke-width="1.1"/>
<line x1="193.00" y1="295.40" x2="196.00" y2="295.40" stroke="#222" stroke-width="1"/>
<text x="188.30" y="298.34" font-size="9.2" text-anchor="end" fill="#1c1c1c" textLength="3.50" lengthAdjust="spacingAndGlyphs">3</text>
<line x1="193.00" y1="328.17" x2="196.00" y2="328.17" stroke="#222" stroke-width="1"/>
<text x="188.30" y="331.11" font-size="9.2" text-anchor="end" fill="#1c1c1c" textLength="3.50" lengthAdjust="spacingAndGlyphs">2</text>
<line x1="193.00" y1="360.93" x2="196.00" y2="360.93" stroke="#222" stroke-width="1"/>
<text x="188.30" y="363.88" font-size="9.2" text-anchor="end" fill="#1c1c1c" textLength="3.50" lengthAdjust="spacingAndGlyphs">1</text>
<line x1="193.00" y1="393.70" x2="196.00" y2="393.70" stroke="#222" stroke-width="1"/>
<text x="188.30" y="396.64" font-size="9.2" text-anchor="end" fill="#1c1c1c" textLength="3.50" lengthAdjust="spacingAndGlyphs">0</text>
<line x1="196.00" y1="393.70" x2="294.50" y2="393.70" stroke="#222" stroke-width="1.1"/>
<line x1="208.20" y1="393.70" x2="208.20" y2="396.90" stroke="#222" stroke-width="1"/>
<line x1="232.70" y1="393.70" x2="232.70" y2="396.90" stroke="#222" stroke-width="1"/>
<line x1="257.20" y1="393.70" x2="257.20" y2="396.90" stroke="#222" stroke-width="1"/>
<line x1="281.80" y1="393.70" x2="281.80" y2="396.90" stroke="#222" stroke-width="1"/>
<text x="208.20" y="406.04" font-size="9.2" text-anchor="middle" fill="#1c1c1c">0</text>
<text x="232.70" y="406.04" font-size="9.2" text-anchor="middle" fill="#1c1c1c">1</text>
<text x="257.20" y="406.04" font-size="9.2" text-anchor="middle" fill="#1c1c1c">2</text>
<text x="281.80" y="406.04" font-size="9.2" text-anchor="middle" fill="#1c1c1c">5</text>
<text x="244.70" y="418.64" font-size="9.2" text-anchor="middle" fill="#1c1c1c" textLength="35.60" lengthAdjust="spacingAndGlyphs">Time (min)</text>
<text transform="translate(178.30,344.50) rotate(-90)" x="0" y="0" font-size="9.2" text-anchor="middle" fill="#1c1c1c" textLength="65.40" lengthAdjust="spacingAndGlyphs">Btk p-Y551/total Btk</text>
<path d="M208.4 299.3V292.8H281.3V299.5" stroke="#222" stroke-width="1.1" fill="none" stroke-linejoin="round" />
<path d="M208.4 309.2V303.7H257.2V309.2" stroke="#222" stroke-width="1.1" fill="none" stroke-linejoin="round" />
<path d="M208.4 321.3V315.3H232.6V321.3" stroke="#222" stroke-width="1.1" fill="none" stroke-linejoin="round" />
<text x="244.40" y="290.58" font-size="8.0" text-anchor="middle" fill="#1c1c1c" textLength="17.40" lengthAdjust="spacingAndGlyphs">####</text>
<text x="233.20" y="301.78" font-size="8.0" text-anchor="middle" fill="#1c1c1c" textLength="17.40" lengthAdjust="spacingAndGlyphs">####</text>
<text x="220.70" y="313.08" font-size="8.0" text-anchor="middle" fill="#1c1c1c" textLength="17.40" lengthAdjust="spacingAndGlyphs">####</text>
<path d="M208.20 356.30 L232.70 358.60 L257.20 349.40 L281.80 357.00" stroke="#c8102e" stroke-width="1.3" fill="none" stroke-linejoin="round" />
<line x1="257.20" y1="345.20" x2="257.20" y2="353.20" stroke="#222" stroke-width="0.9"/>
<line x1="255.40" y1="345.20" x2="259.00" y2="345.20" stroke="#222" stroke-width="0.9"/>
<line x1="255.40" y1="353.20" x2="259.00" y2="353.20" stroke="#222" stroke-width="0.9"/>
<line x1="281.80" y1="353.80" x2="281.80" y2="360.20" stroke="#222" stroke-width="0.9"/>
<line x1="280.00" y1="353.80" x2="283.60" y2="353.80" stroke="#222" stroke-width="0.9"/>
<line x1="280.00" y1="360.20" x2="283.60" y2="360.20" stroke="#222" stroke-width="0.9"/>
<line x1="232.70" y1="356.80" x2="232.70" y2="360.20" stroke="#222" stroke-width="0.9"/>
<line x1="230.90" y1="356.80" x2="234.50" y2="356.80" stroke="#222" stroke-width="0.9"/>
<line x1="230.90" y1="360.20" x2="234.50" y2="360.20" stroke="#222" stroke-width="0.9"/>
<rect x="206.30" y="354.40" width="3.80" height="3.80" fill="#c8102e" />
<rect x="230.80" y="356.70" width="3.80" height="3.80" fill="#c8102e" />
<rect x="255.30" y="347.50" width="3.80" height="3.80" fill="#c8102e" />
<rect x="279.90" y="355.10" width="3.80" height="3.80" fill="#c8102e" />
<path d="M208.20 361.20 L232.70 329.60 L257.20 317.50 L281.80 329.70" stroke="#0e4c82" stroke-width="1.3" fill="none" stroke-linejoin="round" />
<line x1="232.70" y1="324.40" x2="232.70" y2="335.20" stroke="#222" stroke-width="0.9"/>
<line x1="230.90" y1="324.40" x2="234.50" y2="324.40" stroke="#222" stroke-width="0.9"/>
<line x1="230.90" y1="335.20" x2="234.50" y2="335.20" stroke="#222" stroke-width="0.9"/>
<line x1="281.80" y1="324.40" x2="281.80" y2="335.00" stroke="#222" stroke-width="0.9"/>
<line x1="280.00" y1="324.40" x2="283.60" y2="324.40" stroke="#222" stroke-width="0.9"/>
<line x1="280.00" y1="335.00" x2="283.60" y2="335.00" stroke="#222" stroke-width="0.9"/>
<line x1="257.20" y1="306.50" x2="257.20" y2="318.50" stroke="#222" stroke-width="0.9"/>
<line x1="255.40" y1="306.50" x2="259.00" y2="306.50" stroke="#222" stroke-width="0.9"/>
<line x1="255.40" y1="318.50" x2="259.00" y2="318.50" stroke="#222" stroke-width="0.9"/>
<line x1="208.20" y1="358.80" x2="208.20" y2="363.60" stroke="#222" stroke-width="0.9"/>
<line x1="206.40" y1="358.80" x2="210.00" y2="358.80" stroke="#222" stroke-width="0.9"/>
<line x1="206.40" y1="363.60" x2="210.00" y2="363.60" stroke="#222" stroke-width="0.9"/>
<circle cx="208.20" cy="361.20" r="2.2" fill="#0e4c82"/>
<circle cx="232.70" cy="329.60" r="2.2" fill="#0e4c82"/>
<circle cx="257.20" cy="312.50" r="2.2" fill="#0e4c82"/>
<circle cx="281.80" cy="329.70" r="2.2" fill="#0e4c82"/>
<polygon points="227.45,364.75 227.91,365.86 229.11,365.96 228.20,366.74 228.48,367.92 227.45,367.29 226.42,367.92 226.70,366.74 225.79,365.96 226.99,365.86" fill="#1a1a1a"/>
<polygon points="230.95,364.75 231.41,365.86 232.61,365.96 231.70,366.74 231.98,367.92 230.95,367.29 229.92,367.92 230.20,366.74 229.29,365.96 230.49,365.86" fill="#1a1a1a"/>
<polygon points="234.45,364.75 234.91,365.86 236.11,365.96 235.20,366.74 235.48,367.92 234.45,367.29 233.42,367.92 233.70,366.74 232.79,365.96 233.99,365.86" fill="#1a1a1a"/>
<polygon points="237.95,364.75 238.41,365.86 239.61,365.96 238.70,366.74 238.98,367.92 237.95,367.29 236.92,367.92 237.20,366.74 236.29,365.96 237.49,365.86" fill="#1a1a1a"/>
<polygon points="251.95,364.75 252.41,365.86 253.61,365.96 252.70,366.74 252.98,367.92 251.95,367.29 250.92,367.92 251.20,366.74 250.29,365.96 251.49,365.86" fill="#1a1a1a"/>
<polygon points="255.45,364.75 255.91,365.86 257.11,365.96 256.20,366.74 256.48,367.92 255.45,367.29 254.42,367.92 254.70,366.74 253.79,365.96 254.99,365.86" fill="#1a1a1a"/>
<polygon points="258.95,364.75 259.41,365.86 260.61,365.96 259.70,366.74 259.98,367.92 258.95,367.29 257.92,367.92 258.20,366.74 257.29,365.96 258.49,365.86" fill="#1a1a1a"/>
<polygon points="262.45,364.75 262.91,365.86 264.11,365.96 263.20,366.74 263.48,367.92 262.45,367.29 261.42,367.92 261.70,366.74 260.79,365.96 261.99,365.86" fill="#1a1a1a"/>
<polygon points="276.55,369.55 277.01,370.66 278.21,370.76 277.30,371.54 277.58,372.72 276.55,372.09 275.52,372.72 275.80,371.54 274.89,370.76 276.09,370.66" fill="#1a1a1a"/>
<polygon points="280.05,369.55 280.51,370.66 281.71,370.76 280.80,371.54 281.08,372.72 280.05,372.09 279.02,372.72 279.30,371.54 278.39,370.76 279.59,370.66" fill="#1a1a1a"/>
<polygon points="283.55,369.55 284.01,370.66 285.21,370.76 284.30,371.54 284.58,372.72 283.55,372.09 282.52,372.72 282.80,371.54 281.89,370.76 283.09,370.66" fill="#1a1a1a"/>
<polygon points="287.05,369.55 287.51,370.66 288.71,370.76 287.80,371.54 288.08,372.72 287.05,372.09 286.02,372.72 286.30,371.54 285.39,370.76 286.59,370.66" fill="#1a1a1a"/>
<line x1="178.90" y1="429.80" x2="189.00" y2="429.80" stroke="#0e4c82" stroke-width="1.3"/>
<circle cx="184.00" cy="429.80" r="2.2" fill="#0e4c82"/>
<text x="191.80" y="432.64" font-size="9.2" text-anchor="start" fill="#1c1c1c" textLength="56.50" lengthAdjust="spacingAndGlyphs">CRP-XL + DMSO</text>
<line x1="178.90" y1="442.50" x2="189.00" y2="442.50" stroke="#c8102e" stroke-width="1.3"/>
<rect x="181.90" y="440.40" width="4.20" height="4.20" fill="#c8102e" />
<text x="191.80" y="445.34" font-size="9.2" text-anchor="start" fill="#1c1c1c" textLength="74.50" lengthAdjust="spacingAndGlyphs">CRP-XL + remibrutinib</text>
<line x1="395.60" y1="187.50" x2="395.60" y2="290.10" stroke="#222" stroke-width="1.1"/>
<line x1="392.60" y1="191.50" x2="395.60" y2="191.50" stroke="#222" stroke-width="1"/>
<text x="389.00" y="194.44" font-size="9.2" text-anchor="end" fill="#1c1c1c" textLength="10.90" lengthAdjust="spacingAndGlyphs">2.0</text>
<line x1="392.60" y1="216.03" x2="395.60" y2="216.03" stroke="#222" stroke-width="1"/>
<text x="389.00" y="218.97" font-size="9.2" text-anchor="end" fill="#1c1c1c" textLength="10.90" lengthAdjust="spacingAndGlyphs">1.5</text>
<line x1="392.60" y1="240.55" x2="395.60" y2="240.55" stroke="#222" stroke-width="1"/>
<text x="389.00" y="243.49" font-size="9.2" text-anchor="end" fill="#1c1c1c" textLength="10.90" lengthAdjust="spacingAndGlyphs">1.0</text>
<line x1="392.60" y1="265.08" x2="395.60" y2="265.08" stroke="#222" stroke-width="1"/>
<text x="389.00" y="268.02" font-size="9.2" text-anchor="end" fill="#1c1c1c" textLength="10.90" lengthAdjust="spacingAndGlyphs">0.5</text>
<line x1="392.60" y1="289.60" x2="395.60" y2="289.60" stroke="#222" stroke-width="1"/>
<text x="389.00" y="292.54" font-size="9.2" text-anchor="end" fill="#1c1c1c" textLength="10.90" lengthAdjust="spacingAndGlyphs">0.0</text>
<line x1="395.60" y1="289.50" x2="493.70" y2="289.50" stroke="#222" stroke-width="1.1"/>
<rect x="401.00" y="240.80" width="12.90" height="48.70" fill="#c8102e" />
<rect x="419.20" y="239.90" width="13.10" height="49.60" fill="#0e4c82" />
<line x1="425.75" y1="239.90" x2="425.75" y2="233.40" stroke="#222" stroke-width="1.1"/>
<line x1="422.55" y1="233.40" x2="428.95" y2="233.40" stroke="#222" stroke-width="1.1"/>
<rect x="437.60" y="224.30" width="13.30" height="65.20" fill="#0e4c82" />
<line x1="444.25" y1="224.30" x2="444.25" y2="216.40" stroke="#222" stroke-width="1.1"/>
<line x1="441.05" y1="216.40" x2="447.45" y2="216.40" stroke="#222" stroke-width="1.1"/>
<rect x="456.20" y="215.80" width="13.10" height="73.70" fill="#0e4c82" />
<line x1="462.75" y1="215.80" x2="462.75" y2="204.40" stroke="#222" stroke-width="1.1"/>
<line x1="459.55" y1="204.40" x2="465.95" y2="204.40" stroke="#222" stroke-width="1.1"/>
<rect x="474.60" y="224.30" width="13.10" height="65.20" fill="#3cb44b" />
<line x1="481.15" y1="224.30" x2="481.15" y2="217.50" stroke="#222" stroke-width="1.1"/>
<line x1="477.95" y1="217.50" x2="484.35" y2="217.50" stroke="#222" stroke-width="1.1"/>
<line x1="407.60" y1="289.50" x2="407.60" y2="293.20" stroke="#222" stroke-width="1"/>
<line x1="426.00" y1="289.50" x2="426.00" y2="293.20" stroke="#222" stroke-width="1"/>
<line x1="444.60" y1="289.50" x2="444.60" y2="293.20" stroke="#222" stroke-width="1"/>
<line x1="462.60" y1="289.50" x2="462.60" y2="293.20" stroke="#222" stroke-width="1"/>
<line x1="481.40" y1="289.50" x2="481.40" y2="293.20" stroke="#222" stroke-width="1"/>
<line x1="421.00" y1="225.50" x2="431.00" y2="225.50" stroke="#222" stroke-width="1.1"/>
<text x="425.80" y="222.79" font-size="9.2" text-anchor="middle" fill="#1c1c1c" textLength="7.40" lengthAdjust="spacingAndGlyphs">ns</text>
<line x1="440.75" y1="209.50" x2="447.75" y2="209.50" stroke="#222" stroke-width="1.1"/>
<polygon points="444.25,203.65 444.71,204.76 445.91,204.86 445.00,205.64 445.28,206.82 444.25,206.19 443.22,206.82 443.50,205.64 442.59,204.86 443.79,204.76" fill="#1a1a1a"/>
<line x1="459.25" y1="197.40" x2="466.25" y2="197.40" stroke="#222" stroke-width="1.1"/>
<polygon points="462.75,191.65 463.21,192.76 464.41,192.86 463.50,193.64 463.78,194.82 462.75,194.19 461.72,194.82 462.00,193.64 461.09,192.86 462.29,192.76" fill="#1a1a1a"/>
<line x1="477.65" y1="210.50" x2="484.65" y2="210.50" stroke="#222" stroke-width="1.1"/>
<polygon points="481.15,204.25 481.61,205.36 482.81,205.46 481.90,206.24 482.18,207.42 481.15,206.79 480.12,207.42 480.40,206.24 479.49,205.46 480.69,205.36" fill="#1a1a1a"/>
<text transform="translate(372.20,240.00) rotate(-90)" x="0" y="0" font-size="9.2" text-anchor="middle" fill="#1c1c1c" textLength="66.30" lengthAdjust="spacingAndGlyphs">Btk p-Y223/total Btk</text>
<rect x="392.40" y="300.30" width="105.00" height="22.90" fill="#f8f8f8" />
<rect x="395.15" y="307.90" width="17.20" height="4.40" rx="2.42" ry="1.76" fill="#0a0a0a" filter="url(#bl1)"/>
<rect x="417.15" y="306.90" width="17.20" height="5.40" rx="2.97" ry="2.16" fill="#080808" filter="url(#bl1)"/>
<rect x="439.20" y="306.40" width="16.00" height="5.20" rx="2.86" ry="2.08" fill="#080808" filter="url(#bl1)"/>
<rect x="459.20" y="304.30" width="17.20" height="7.40" rx="4.00" ry="2.96" fill="#060606" filter="url(#bl1)"/>
<rect x="479.20" y="305.20" width="14.80" height="5.60" rx="3.08" ry="2.24" fill="#080808" filter="url(#bl1)"/>
<rect x="392.40" y="300.30" width="105.00" height="22.90" fill="none" stroke="#111" stroke-width="1.3"/>
<text x="388.90" y="312.84" font-size="9.2" text-anchor="end" fill="#1c1c1c" textLength="34.30" lengthAdjust="spacingAndGlyphs">BTK Y223</text>
<text x="500.40" y="312.74" font-size="9.2" text-anchor="start" fill="#1c1c1c" textLength="8.30" lengthAdjust="spacingAndGlyphs">74</text>
<rect x="392.40" y="336.60" width="105.00" height="23.00" fill="#f6f6f6" />
<rect x="392.40" y="341.50" width="105.00" height="2.50" fill="#e4e4e4" opacity="0.7"/>
<rect x="393.65" y="344.80" width="19.60" height="8.60" rx="4.00" ry="3.44" fill="#050505" filter="url(#bl1)"/>
<rect x="415.70" y="344.35" width="19.60" height="9.00" rx="4.00" ry="3.60" fill="#050505" filter="url(#bl1)"/>
<rect x="437.95" y="344.35" width="18.20" height="8.80" rx="4.00" ry="3.52" fill="#050505" filter="url(#bl1)"/>
<rect x="458.85" y="343.40" width="18.20" height="10.20" rx="4.00" ry="4.08" fill="#050505" filter="url(#bl1)"/>
<rect x="479.30" y="344.60" width="16.40" height="7.60" rx="4.00" ry="3.04" fill="#060606" filter="url(#bl1)"/>
<rect x="392.40" y="336.60" width="105.00" height="23.00" fill="none" stroke="#111" stroke-width="1.3"/>
<text x="388.90" y="349.04" font-size="9.2" text-anchor="end" fill="#1c1c1c" textLength="33.50" lengthAdjust="spacingAndGlyphs">Total BTK</text>
<text x="500.40" y="349.14" font-size="9.2" text-anchor="start" fill="#1c1c1c" textLength="8.30" lengthAdjust="spacingAndGlyphs">74</text>
<text x="499.80" y="368.44" font-size="9.2" text-anchor="start" fill="#1c1c1c" textLength="14.00" lengthAdjust="spacingAndGlyphs">kDa</text>
<text transform="translate(406.00,368.50) rotate(-45)" x="0" y="0" font-size="9.0" text-anchor="end" fill="#1c1c1c" textLength="23.52" lengthAdjust="spacingAndGlyphs">DMSO</text>
<text transform="translate(428.70,368.00) rotate(-45)" x="0" y="0" font-size="9.0" text-anchor="end" fill="#1c1c1c" textLength="66.63" lengthAdjust="spacingAndGlyphs">0.1 µg/mL CXCL12</text>
<text transform="translate(451.00,368.25) rotate(-45)" x="0" y="0" font-size="9.0" text-anchor="end" fill="#1c1c1c" textLength="67.26" lengthAdjust="spacingAndGlyphs">1.0 µg/mL CXCL12</text>
<text transform="translate(470.40,367.95) rotate(-45)" x="0" y="0" font-size="9.0" text-anchor="end" fill="#1c1c1c" textLength="63.86" lengthAdjust="spacingAndGlyphs">10 µg/mL CXCL12</text>
<text transform="translate(489.95,367.55) rotate(-45)" x="0" y="0" font-size="9.0" text-anchor="end" fill="#1c1c1c" textLength="69.46" lengthAdjust="spacingAndGlyphs">0.1 µg/mL collagen</text>
<rect x="123.10" y="479.70" width="7.30" height="6.90" fill="#c8102e" />
<text x="133.80" y="485.64" font-size="9.2" text-anchor="start" fill="#1c1c1c" textLength="22.40" lengthAdjust="spacingAndGlyphs">DMSO</text>
<rect x="123.10" y="490.10" width="7.30" height="6.90" fill="#0e4c82" />
<text x="133.80" y="496.24" font-size="9.2" text-anchor="start" fill="#1c1c1c" textLength="42.40" lengthAdjust="spacingAndGlyphs">Remibrutinib</text>
<line x1="120.00" y1="497.40" x2="120.00" y2="615.10" stroke="#222" stroke-width="1.1"/>
<line x1="117.00" y1="501.30" x2="120.00" y2="501.30" stroke="#222" stroke-width="1"/>
<text x="113.90" y="504.24" font-size="9.2" text-anchor="end" fill="#1c1c1c" textLength="13.30" lengthAdjust="spacingAndGlyphs">200</text>
<line x1="117.00" y1="529.62" x2="120.00" y2="529.62" stroke="#222" stroke-width="1"/>
<text x="113.90" y="532.57" font-size="9.2" text-anchor="end" fill="#1c1c1c" textLength="13.30" lengthAdjust="spacingAndGlyphs">150</text>
<line x1="117.00" y1="557.95" x2="120.00" y2="557.95" stroke="#222" stroke-width="1"/>
<text x="113.90" y="560.89" font-size="9.2" text-anchor="end" fill="#1c1c1c" textLength="13.30" lengthAdjust="spacingAndGlyphs">100</text>
<line x1="117.00" y1="586.27" x2="120.00" y2="586.27" stroke="#222" stroke-width="1"/>
<text x="113.90" y="589.22" font-size="9.2" text-anchor="end" fill="#1c1c1c" textLength="8.90" lengthAdjust="spacingAndGlyphs">50</text>
<line x1="117.00" y1="614.60" x2="120.00" y2="614.60" stroke="#222" stroke-width="1"/>
<text x="113.90" y="617.54" font-size="9.2" text-anchor="end" fill="#1c1c1c" textLength="4.40" lengthAdjust="spacingAndGlyphs">0</text>
<line x1="120.00" y1="614.60" x2="233.60" y2="614.60" stroke="#222" stroke-width="1.1"/>
<text transform="translate(94.90,558.00) rotate(-90)" x="0" y="0" font-size="9.2" text-anchor="middle" fill="#1c1c1c" textLength="33.70" lengthAdjust="spacingAndGlyphs">PAC-1 MFI</text>
<rect x="124.30" y="581.90" width="6.40" height="32.70" fill="#c8102e" />
<line x1="127.50" y1="581.90" x2="127.50" y2="574.60" stroke="#222" stroke-width="1.1"/>
<line x1="125.30" y1="574.60" x2="129.70" y2="574.60" stroke="#222" stroke-width="1.1"/>
<rect x="134.90" y="587.40" width="6.70" height="27.20" fill="#0e4c82" />
<line x1="138.25" y1="587.40" x2="138.25" y2="581.30" stroke="#222" stroke-width="1.1"/>
<line x1="136.05" y1="581.30" x2="140.45" y2="581.30" stroke="#222" stroke-width="1.1"/>
<rect x="153.00" y="584.40" width="6.70" height="30.20" fill="#c8102e" />
<line x1="156.35" y1="584.40" x2="156.35" y2="578.00" stroke="#222" stroke-width="1.1"/>
<line x1="154.15" y1="578.00" x2="158.55" y2="578.00" stroke="#222" stroke-width="1.1"/>
<rect x="164.20" y="589.10" width="6.70" height="25.50" fill="#0e4c82" />
<line x1="167.55" y1="589.10" x2="167.55" y2="585.80" stroke="#222" stroke-width="1.1"/>
<line x1="165.35" y1="585.80" x2="169.75" y2="585.80" stroke="#222" stroke-width="1.1"/>
<rect x="182.30" y="571.80" width="6.70" height="42.80" fill="#c8102e" />
<line x1="185.65" y1="571.80" x2="185.65" y2="551.20" stroke="#222" stroke-width="1.1"/>
<line x1="183.45" y1="551.20" x2="187.85" y2="551.20" stroke="#222" stroke-width="1.1"/>
<rect x="193.40" y="582.10" width="6.70" height="32.50" fill="#0e4c82" />
<line x1="196.75" y1="582.10" x2="196.75" y2="567.90" stroke="#222" stroke-width="1.1"/>
<line x1="194.55" y1="567.90" x2="198.95" y2="567.90" stroke="#222" stroke-width="1.1"/>
<rect x="211.60" y="554.30" width="6.70" height="60.30" fill="#c8102e" />
<line x1="214.95" y1="554.30" x2="214.95" y2="513.00" stroke="#222" stroke-width="1.1"/>
<line x1="212.75" y1="513.00" x2="217.15" y2="513.00" stroke="#222" stroke-width="1.1"/>
<rect x="222.70" y="586.90" width="6.70" height="27.70" fill="#0e4c82" />
<line x1="226.05" y1="586.90" x2="226.05" y2="580.50" stroke="#222" stroke-width="1.1"/>
<line x1="223.85" y1="580.50" x2="228.25" y2="580.50" stroke="#222" stroke-width="1.1"/>
<line x1="132.60" y1="614.60" x2="132.60" y2="617.80" stroke="#222" stroke-width="1"/>
<line x1="161.90" y1="614.60" x2="161.90" y2="617.80" stroke="#222" stroke-width="1"/>
<line x1="191.20" y1="614.60" x2="191.20" y2="617.80" stroke="#222" stroke-width="1"/>
<line x1="220.50" y1="614.60" x2="220.50" y2="617.80" stroke="#222" stroke-width="1"/>
<path d="M186.0 539.5V471.0H215.0V478.8" stroke="#222" stroke-width="1.1" fill="none" stroke-linejoin="round" />
<polygon points="201.25,464.85 201.71,465.96 202.91,466.06 202.00,466.84 202.28,468.02 201.25,467.39 200.22,468.02 200.50,466.84 199.59,466.06 200.79,465.96" fill="#1a1a1a"/>
<line x1="215.00" y1="505.30" x2="229.50" y2="505.30" stroke="#222" stroke-width="1.1"/>
<polygon points="218.60,499.65 219.06,500.76 220.26,500.86 219.35,501.64 219.63,502.82 218.60,502.19 217.57,502.82 217.85,501.64 216.94,500.86 218.14,500.76" fill="#1a1a1a"/>
<polygon points="222.20,499.65 222.66,500.76 223.86,500.86 222.95,501.64 223.23,502.82 222.20,502.19 221.17,502.82 221.45,501.64 220.54,500.86 221.74,500.76" fill="#1a1a1a"/>
<polygon points="225.80,499.65 226.26,500.76 227.46,500.86 226.55,501.64 226.83,502.82 225.80,502.19 224.77,502.82 225.05,501.64 224.14,500.86 225.34,500.76" fill="#1a1a1a"/>
<text transform="translate(135.30,625.80) rotate(-45)" x="0" y="0" font-size="8.4" text-anchor="end" fill="#1c1c1c" textLength="26.41" lengthAdjust="spacingAndGlyphs">Control</text>
<text transform="translate(165.70,623.95) rotate(-45)" x="0" y="0" font-size="8.4" text-anchor="end" fill="#1c1c1c" textLength="29.18" lengthAdjust="spacingAndGlyphs">CXCL12</text>
<text transform="translate(195.95,622.95) rotate(-45)" x="0" y="0" font-size="8.4" text-anchor="end" fill="#1c1c1c" textLength="28.73" lengthAdjust="spacingAndGlyphs">CRP-XL</text>
<text transform="translate(223.30,623.65) rotate(-45)" x="0" y="0" font-size="8.4" text-anchor="end" fill="#1c1c1c" textLength="31.28" lengthAdjust="spacingAndGlyphs">CRP-XL+</text>
<text transform="translate(231.35,629.55) rotate(-45)" x="0" y="0" font-size="8.4" text-anchor="end" fill="#1c1c1c" textLength="29.39" lengthAdjust="spacingAndGlyphs">CXCL12</text>
<line x1="323.75" y1="510.00" x2="323.75" y2="615.50" stroke="#222" stroke-width="1.1"/>
<line x1="320.75" y1="513.75" x2="323.75" y2="513.75" stroke="#222" stroke-width="1"/>
<text x="317.00" y="516.69" font-size="9.2" text-anchor="end" fill="#1c1c1c" textLength="13.00" lengthAdjust="spacingAndGlyphs">800</text>
<line x1="320.75" y1="539.06" x2="323.75" y2="539.06" stroke="#222" stroke-width="1"/>
<text x="317.00" y="542.01" font-size="9.2" text-anchor="end" fill="#1c1c1c" textLength="13.00" lengthAdjust="spacingAndGlyphs">600</text>
<line x1="320.75" y1="564.38" x2="323.75" y2="564.38" stroke="#222" stroke-width="1"/>
<text x="317.00" y="567.32" font-size="9.2" text-anchor="end" fill="#1c1c1c" textLength="13.00" lengthAdjust="spacingAndGlyphs">400</text>
<line x1="320.75" y1="589.69" x2="323.75" y2="589.69" stroke="#222" stroke-width="1"/>
<text x="317.00" y="592.63" font-size="9.2" text-anchor="end" fill="#1c1c1c" textLength="13.00" lengthAdjust="spacingAndGlyphs">200</text>
<line x1="320.75" y1="615.00" x2="323.75" y2="615.00" stroke="#222" stroke-width="1"/>
<text x="317.00" y="617.94" font-size="9.2" text-anchor="end" fill="#1c1c1c" textLength="4.20" lengthAdjust="spacingAndGlyphs">0</text>
<line x1="323.75" y1="615.00" x2="436.75" y2="615.00" stroke="#222" stroke-width="1.1"/>
<text transform="translate(297.80,564.50) rotate(-90)" x="0" y="0" font-size="9.2" text-anchor="middle" fill="#1c1c1c" textLength="45.70" lengthAdjust="spacingAndGlyphs">P-selectin MFI</text>
<rect x="327.00" y="606.25" width="6.75" height="8.75" fill="#c8102e" />
<line x1="330.38" y1="606.25" x2="330.38" y2="604.25" stroke="#222" stroke-width="1.1"/>
<line x1="328.18" y1="604.25" x2="332.57" y2="604.25" stroke="#222" stroke-width="1.1"/>
<rect x="338.25" y="608.25" width="6.75" height="6.75" fill="#0e4c82" />
<line x1="341.62" y1="608.25" x2="341.62" y2="607.00" stroke="#222" stroke-width="1.1"/>
<line x1="339.43" y1="607.00" x2="343.82" y2="607.00" stroke="#222" stroke-width="1.1"/>
<rect x="356.25" y="606.75" width="7.00" height="8.25" fill="#c8102e" />
<line x1="359.75" y1="606.75" x2="359.75" y2="604.50" stroke="#222" stroke-width="1.1"/>
<line x1="357.55" y1="604.50" x2="361.95" y2="604.50" stroke="#222" stroke-width="1.1"/>
<rect x="367.50" y="608.75" width="6.75" height="6.25" fill="#0e4c82" />
<line x1="370.88" y1="608.75" x2="370.88" y2="607.50" stroke="#222" stroke-width="1.1"/>
<line x1="368.68" y1="607.50" x2="373.07" y2="607.50" stroke="#222" stroke-width="1.1"/>
<rect x="385.75" y="575.75" width="6.75" height="39.25" fill="#c8102e" />
<line x1="389.12" y1="575.75" x2="389.12" y2="548.75" stroke="#222" stroke-width="1.1"/>
<line x1="386.93" y1="548.75" x2="391.32" y2="548.75" stroke="#222" stroke-width="1.1"/>
<rect x="397.00" y="608.00" width="6.75" height="7.00" fill="#0e4c82" />
<line x1="400.38" y1="608.00" x2="400.38" y2="605.00" stroke="#222" stroke-width="1.1"/>
<line x1="398.18" y1="605.00" x2="402.57" y2="605.00" stroke="#222" stroke-width="1.1"/>
<rect x="415.00" y="558.00" width="7.00" height="57.00" fill="#c8102e" />
<line x1="418.50" y1="558.00" x2="418.50" y2="513.30" stroke="#222" stroke-width="1.1"/>
<line x1="416.30" y1="513.30" x2="420.70" y2="513.30" stroke="#222" stroke-width="1.1"/>
<rect x="426.50" y="608.00" width="6.50" height="7.00" fill="#0e4c82" />
<line x1="429.75" y1="608.00" x2="429.75" y2="605.50" stroke="#222" stroke-width="1.1"/>
<line x1="427.55" y1="605.50" x2="431.95" y2="605.50" stroke="#222" stroke-width="1.1"/>
<line x1="336.25" y1="615.00" x2="336.25" y2="618.20" stroke="#222" stroke-width="1"/>
<line x1="365.50" y1="615.00" x2="365.50" y2="618.20" stroke="#222" stroke-width="1"/>
<line x1="394.50" y1="615.00" x2="394.50" y2="618.20" stroke="#222" stroke-width="1"/>
<line x1="423.75" y1="615.00" x2="423.75" y2="618.20" stroke="#222" stroke-width="1"/>
<path d="M389.0 502.9V475.9H418.4V491.5" stroke="#222" stroke-width="1.1" fill="none" stroke-linejoin="round" />
<polygon points="404.20,470.25 404.66,471.36 405.86,471.46 404.95,472.24 405.23,473.42 404.20,472.79 403.17,473.42 403.45,472.24 402.54,471.46 403.74,471.36" fill="#1a1a1a"/>
<line x1="388.75" y1="542.50" x2="402.50" y2="542.50" stroke="#222" stroke-width="1.1"/>
<polygon points="393.80,537.25 394.26,538.36 395.46,538.46 394.55,539.24 394.83,540.42 393.80,539.79 392.77,540.42 393.05,539.24 392.14,538.46 393.34,538.36" fill="#1a1a1a"/>
<polygon points="397.40,537.25 397.86,538.36 399.06,538.46 398.15,539.24 398.43,540.42 397.40,539.79 396.37,540.42 396.65,539.24 395.74,538.46 396.94,538.36" fill="#1a1a1a"/>
<line x1="418.40" y1="506.40" x2="432.20" y2="506.40" stroke="#222" stroke-width="1.1"/>
<polygon points="421.70,500.85 422.16,501.96 423.36,502.06 422.45,502.84 422.73,504.02 421.70,503.39 420.67,504.02 420.95,502.84 420.04,502.06 421.24,501.96" fill="#1a1a1a"/>
<polygon points="425.30,500.85 425.76,501.96 426.96,502.06 426.05,502.84 426.33,504.02 425.30,503.39 424.27,504.02 424.55,502.84 423.64,502.06 424.84,501.96" fill="#1a1a1a"/>
<polygon points="428.90,500.85 429.36,501.96 430.56,502.06 429.65,502.84 429.93,504.02 428.90,503.39 427.87,504.02 428.15,502.84 427.24,502.06 428.44,501.96" fill="#1a1a1a"/>
<text transform="translate(338.40,625.35) rotate(-45)" x="0" y="0" font-size="8.4" text-anchor="end" fill="#1c1c1c" textLength="26.34" lengthAdjust="spacingAndGlyphs">Control</text>
<text transform="translate(368.45,624.45) rotate(-45)" x="0" y="0" font-size="8.4" text-anchor="end" fill="#1c1c1c" textLength="30.81" lengthAdjust="spacingAndGlyphs">CXCL12</text>
<text transform="translate(399.20,623.00) rotate(-45)" x="0" y="0" font-size="8.4" text-anchor="end" fill="#1c1c1c" textLength="27.74" lengthAdjust="spacingAndGlyphs">CRP-XL</text>
<text transform="translate(428.65,623.00) rotate(-45)" x="0" y="0" font-size="8.4" text-anchor="end" fill="#1c1c1c" textLength="32.55" lengthAdjust="spacingAndGlyphs">CRP-XL+</text>
<text transform="translate(435.15,629.55) rotate(-45)" x="0" y="0" font-size="8.4" text-anchor="end" fill="#1c1c1c" textLength="29.39" lengthAdjust="spacingAndGlyphs">CXCL12</text>
<text x="6.58" y="14.25" font-size="10.2" font-weight="bold" fill="#000" style="stroke:#000;stroke-width:0.3px" textLength="7.87" lengthAdjust="spacingAndGlyphs">A</text>
<text x="204.56" y="14.50" font-size="10.2" font-weight="bold" fill="#000" style="stroke:#000;stroke-width:0.3px" textLength="7.47" lengthAdjust="spacingAndGlyphs">B</text>
<text x="402.94" y="14.75" font-size="10.2" font-weight="bold" fill="#000" style="stroke:#000;stroke-width:0.3px" textLength="7.30" lengthAdjust="spacingAndGlyphs">C</text>
<text x="6.35" y="192.50" font-size="10.2" font-weight="bold" fill="#000" style="stroke:#000;stroke-width:0.3px" textLength="8.61" lengthAdjust="spacingAndGlyphs">D</text>
<text x="169.68" y="192.55" font-size="10.2" font-weight="bold" fill="#000" style="stroke:#000;stroke-width:0.3px" textLength="6.67" lengthAdjust="spacingAndGlyphs">E</text>
<text x="354.50" y="192.50" font-size="10.2" font-weight="bold" fill="#000" style="stroke:#000;stroke-width:0.3px" textLength="6.88" lengthAdjust="spacingAndGlyphs">F</text>
<text x="83.49" y="474.90" font-size="10.2" font-weight="bold" fill="#000" style="stroke:#000;stroke-width:0.3px" textLength="8.66" lengthAdjust="spacingAndGlyphs">G</text>
<text x="286.30" y="474.70" font-size="10.2" font-weight="bold" fill="#000" style="stroke:#000;stroke-width:0.3px" textLength="8.61" lengthAdjust="spacingAndGlyphs">H</text>
<rect x="0.5" y="0.5" width="519" height="655" fill="none" stroke="#000" stroke-width="1.2"/>
</svg></body></html>
